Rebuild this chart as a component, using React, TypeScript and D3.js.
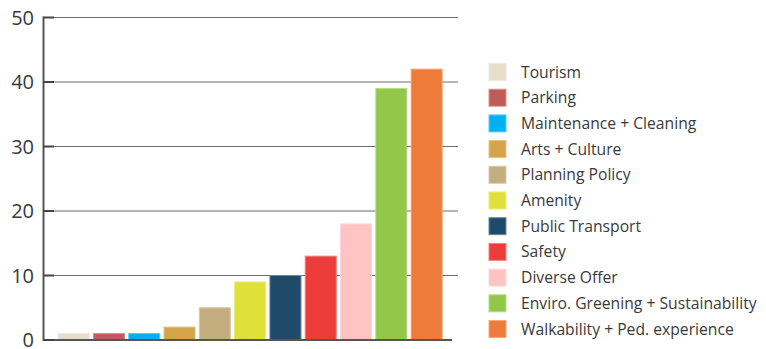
import React from "react";
import * as d3 from "d3";

const categories = [
  "Tourism",
  "Parking",
  "Maintenance + Cleaning",
  "Arts + Culture",
  "Planning Policy",
  "Amenity",
  "Public Transport",
  "Safety",
  "Diverse Offer",
  "Enviro. Greening + Sustainability",
  "Walkability + Ped. experience",
];
const values = [1, 1, 1, 2, 5, 9, 10, 13, 18, 39, 42];
const colors = [
  "#e6ddcb",
  "#bf5b58",
  "#00b0f0",
  "#d4a44a",
  "#c4ae80",
  "#dfe13a",
  "#1f4a6a",
  "#ec3d3a",
  "#fec3c3",
  "#92c84a",
  "#ee7b3a",
];
const yTicks = [0, 10, 20, 30, 40, 50];

export default function App() {
  const W = 766;
  const H = 349;
  const axisX = 43.5;
  const gridEnd = 458;
  const x = d3
    .scaleBand<string>()
    .domain(categories)
    .range([56, 444.3])
    .paddingInner(0.12)
    .paddingOuter(0.06);
  const y = d3.scaleLinear().domain([0, 50]).range([340, 17.5]);
  const legendX = 489;
  const legendY0 = 72;
  const legendStep = 25.7;

  return (
    <svg
      width={W}
      height={H}
      style={{ position: "absolute", left: 0, top: 0, background: "#fff" }}
    >
      {yTicks
        .filter((t) => t > 0)
        .map((t) => (
          <line
            key={"g" + t}
            x1={axisX}
            x2={gridEnd}
            y1={y(t)}
            y2={y(t)}
            stroke="#6d6d6d"
            strokeWidth={1.2}
          />
        ))}
      {values.map((v, i) => (
        <rect
          key={"b" + i}
          x={x(categories[i])}
          y={y(v)}
          width={x.bandwidth()}
          height={y(0) - y(v)}
          fill={colors[i]}
          stroke={d3.interpolateRgb(colors[i], "#fff")(0.35)}
          strokeWidth={1}
        />
      ))}
      <line x1={axisX} x2={452} y1={y(0)} y2={y(0)} stroke="#555" strokeWidth={2} />
      <line x1={axisX} x2={axisX} y1={y(50) - 1} y2={y(0) + 1} stroke="#555" strokeWidth={2} />
      {yTicks.map((t) => (
        <g key={"t" + t}>
          <line x1={axisX} x2={54} y1={y(t)} y2={y(t)} stroke="#444" strokeWidth={2} />
          <text
            x={34}
            y={y(t)}
            dy="0.36em"
            textAnchor="end"
            fontSize={20}
            fontFamily="'Open Sans', sans-serif"
            fill="#3a3a3a"
          >
            {t}
          </text>
        </g>
      ))}
      {categories.map((c, i) => (
        <g key={"l" + i} transform={`translate(${legendX},${legendY0 + i * legendStep})`}>
          <rect
            x={0}
            y={-8.5}
            width={17}
            height={17}
            fill={colors[i]}
            stroke={d3.interpolateRgb(colors[i], "#fff")(0.35)}
            strokeWidth={1}
          />
          <text
            x={32}
            y={0}
            dy="0.35em"
            fontSize={15.7}
            fontFamily="'Open Sans', sans-serif"
            fill="#3a3a3a"
          >
            {c}
          </text>
        </g>
      ))}
    </svg>
  );
}
